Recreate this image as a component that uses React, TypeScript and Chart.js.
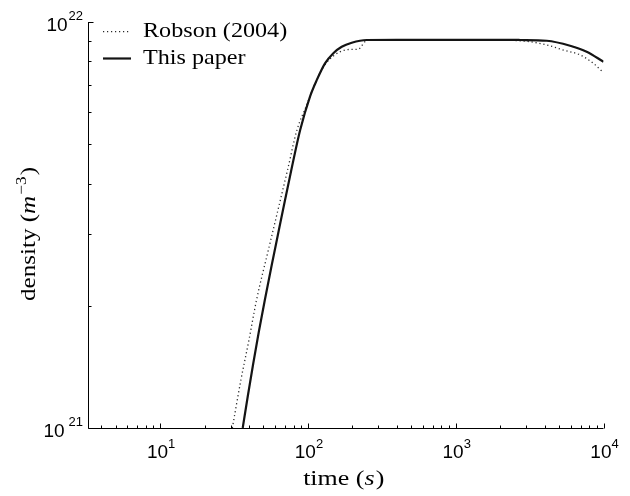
import React, { useEffect, useRef } from "react";
import { Chart, registerables } from "chart.js";

Chart.register(...registerables);

// ---- data (time in s, density in m^-3) ----
const robsonTime = [30.8, 35.2, 39.9, 44.9, 54.0, 62.7, 72.8, 84.3, 97.1, 114.4, 130.5, 152.3, 178, 200, 219, 243, 272, 500, 1000, 2000, 3190, 4130, 5350, 6930, 8530, 10000];
const robsonDensity = [1.0e21, 1.313e21, 1.647e21, 2.067e21, 2.745e21, 3.443e21, 4.32e21, 5.42e21, 6.185e21, 7.19e21, 7.85e21, 8.3e21, 8.53e21, 8.56e21, 8.57e21, 8.94e21, 9.05e21, 9.05e21, 9.05e21, 9.03e21, 8.94e21, 8.78e21, 8.53e21, 8.3e21, 7.91e21, 7.5e21];

const paperTime = [36.2, 39.2, 42.6, 46.5, 51.1, 56.9, 62.6, 70.0, 77.2, 88.6, 103.3, 114.7, 130.5, 148.6, 169.3, 197.9, 250, 400, 1000, 2000, 2730, 4130, 5940, 7690, 10000];
const paperDensity = [1.0e21, 1.199e21, 1.438e21, 1.724e21, 2.067e21, 2.52e21, 2.988e21, 3.644e21, 4.32e21, 5.42e21, 6.55e21, 7.19e21, 7.91e21, 8.38e21, 8.69e21, 8.89e21, 9.03e21, 9.04e21, 9.04e21, 9.04e21, 9.03e21, 8.99e21, 8.74e21, 8.45e21, 7.98e21];

const seriesLabels = ["Robson (2004)", "This paper"];
const xTickExponents = [1, 2, 3, 4];
const yTickExponents = [21, 22];
const xRange = [3.25, 1e4];
const yRange = [1e21, 1e22];

const SANS = "'Liberation Sans', Arial, sans-serif";
const SERIF = "'Liberation Serif', 'Times New Roman', serif";

type Part = { text: string; font: string; dy?: number; dx?: number };

function partsWidth(ctx: CanvasRenderingContext2D, parts: Part[]) {
  let w = 0;
  for (const p of parts) {
    ctx.font = p.font;
    w += ctx.measureText(p.text).width + (p.dx || 0);
  }
  return w;
}

function drawParts(
  ctx: CanvasRenderingContext2D,
  parts: Part[],
  x: number,
  y: number,
  align: "left" | "center" | "right",
  sx = 1
) {
  const w = partsWidth(ctx, parts) * sx;
  let start = x;
  if (align === "center") start = x - w / 2;
  if (align === "right") start = x - w;
  ctx.save();
  ctx.translate(start, y);
  ctx.scale(sx, 1);
  ctx.textAlign = "left";
  ctx.textBaseline = "alphabetic";
  let cx = 0;
  for (const p of parts) {
    ctx.font = p.font;
    cx += p.dx || 0;
    ctx.fillText(p.text, cx, p.dy || 0);
    cx += ctx.measureText(p.text).width;
  }
  ctx.restore();
}

const matlabAxes = {
  id: "matlabAxes",
  afterDraw(chart: any) {
    const { ctx, chartArea: a, scales } = chart;
    const xs = scales.x;
    const ys = scales.y;
    ctx.save();
    ctx.strokeStyle = "#000";
    ctx.fillStyle = "#000";
    ctx.lineWidth = 1;
    ctx.setLineDash([]);

    const L = Math.round(a.left) + 0.5;
    const B = Math.round(a.bottom) + 0.5;

    // axis lines
    ctx.beginPath();
    ctx.moveTo(L, a.top);
    ctx.lineTo(L, B);
    ctx.lineTo(a.right, B);
    ctx.stroke();

    // x ticks (inward)
    ctx.beginPath();
    for (let d = 0; d <= 4; d++) {
      for (let m = 1; m <= 9; m++) {
        const v = m * Math.pow(10, d);
        if (v < xs.min - 1e-9 || v > xs.max * 1.0000001) continue;
        const px = Math.round(xs.getPixelForValue(v)) + 0.5;
        const len = m === 1 ? 5 : 3;
        ctx.moveTo(px, B);
        ctx.lineTo(px, B - len);
      }
    }
    // y ticks (inward)
    for (let d = 21; d <= 22; d++) {
      for (let m = 1; m <= 9; m++) {
        const v = m * Math.pow(10, d);
        if (v < ys.min * 0.9999999 || v > ys.max * 1.0000001) continue;
        const py = Math.round(ys.getPixelForValue(v)) + 0.5;
        const len = m === 1 ? 5 : 3;
        ctx.moveTo(L, py);
        ctx.lineTo(L + len, py);
      }
    }
    ctx.stroke();

    // x tick labels
    for (const e of xTickExponents) {
      const px = xs.getPixelForValue(Math.pow(10, e));
      drawParts(
        ctx,
        [
          { text: "10", font: `19px ${SANS}` },
          { text: String(e), font: `13px ${SANS}`, dy: -10 },
        ],
        px + 1,
        a.bottom + 30,
        "center"
      );
    }
    // y tick labels
    yTickExponents.forEach((e, i) => {
      const py = ys.getPixelForValue(Math.pow(10, e));
      drawParts(
        ctx,
        [
          { text: "10", font: `19px ${SANS}` },
          { text: String(e), font: `13px ${SANS}`, dy: -11, dx: i === 0 ? 4 : 1 },
        ],
        a.left - 5,
        py + 9,
        "right"
      );
    });

    // x axis title
    drawParts(
      ctx,
      [
        { text: "time (", font: `22px ${SERIF}` },
        { text: "s", font: `italic 22px ${SERIF}` },
        { text: ")", font: `22px ${SERIF}`, dx: 1 },
      ],
      (a.left + a.right) / 2 - 2,
      a.bottom + 57,
      "center",
      1.18
    );

    // y axis title (rotated, reads bottom to top)
    ctx.save();
    ctx.translate(35, a.bottom - 127);
    ctx.rotate(-Math.PI / 2);
    drawParts(
      ctx,
      [
        { text: "density (", font: `22px ${SERIF}` },
        { text: "m", font: `italic 22px ${SERIF}` },
        { text: "\u22123", font: `15px ${SERIF}`, dy: -9, dx: 1 },
        { text: ")", font: `22px ${SERIF}`, dx: 1 },
      ],
      0,
      0,
      "left",
      1.14
    );
    ctx.restore();

    // legend
    const order = [1, 0]; // Robson first, then This paper
    const legendY = [31.7, 58.5];
    order.forEach((dsIndex, row) => {
      const ds = chart.data.datasets[dsIndex];
      const y = legendY[row];
      ctx.save();
      ctx.strokeStyle = ds.borderColor;
      ctx.lineWidth = ds.borderWidth;
      ctx.setLineDash(ds.borderDash || []);
      ctx.beginPath();
      ctx.moveTo(a.left + 15, y);
      ctx.lineTo(a.left + 43, y);
      ctx.stroke();
      ctx.restore();
      ctx.fillStyle = "#000";
      drawParts(ctx, [{ text: ds.label, font: `21px ${SERIF}` }], a.left + 55, y + 5.5, "left", 1.15);
    });

    ctx.restore();
  },
};

export default function App() {
  const canvasRef = useRef<HTMLCanvasElement | null>(null);

  useEffect(() => {
    const canvas = canvasRef.current;
    if (!canvas) return;
    const chart = new Chart(canvas, {
      type: "line",
      data: {
        datasets: [
          {
            label: seriesLabels[1],
            data: paperTime.map((t, i) => ({ x: t, y: paperDensity[i] })),
            borderColor: "#141414",
            borderWidth: 2.2,
            pointRadius: 0,
            cubicInterpolationMode: "monotone",
            fill: false,
            order: 0,
          },
          {
            label: seriesLabels[0],
            data: robsonTime.map((t, i) => ({ x: t, y: robsonDensity[i] })),
            borderColor: "#2a2a2a",
            borderWidth: 1.3,
            borderDash: [1.2, 2.8],
            pointRadius: 0,
            cubicInterpolationMode: "monotone",
            fill: false,
            order: 1,
          },
        ],
      },
      options: {
        responsive: false,
        animation: false,
        devicePixelRatio: 1,
        layout: { padding: { left: 88, top: 22, right: 26.5, bottom: 68 } },
        plugins: { legend: { display: false }, tooltip: { enabled: false } },
        scales: {
          x: { type: "logarithmic", display: false, min: xRange[0], max: xRange[1] },
          y: { type: "logarithmic", display: false, min: yRange[0], max: yRange[1] },
        },
      },
      plugins: [matlabAxes],
    });
    return () => chart.destroy();
  }, []);

  return (
    <div style={{ position: "absolute", left: 0, top: 0, width: 630, height: 496, background: "#fff" }}>
      <canvas ref={canvasRef} width={630} height={496} style={{ display: "block" }} />
    </div>
  );
}
